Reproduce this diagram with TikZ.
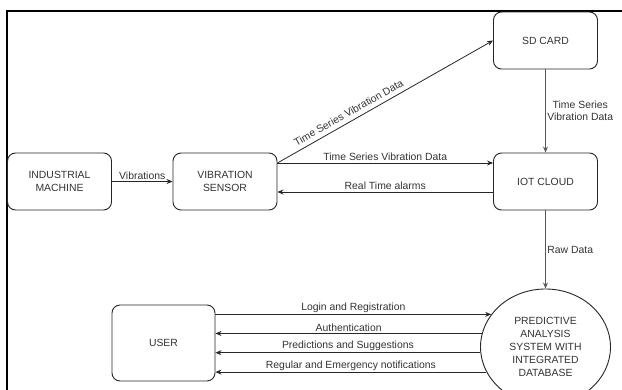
\documentclass[tikz,border=0pt]{standalone}
\usepackage{fontspec}
\setmainfont{Liberation Sans}
\usetikzlibrary{arrows.meta,shapes.geometric}
\begin{document}
\begin{tikzpicture}[x=1pt,y=-1pt,
  box/.style={draw=black!85, line width=0.9pt, rounded corners=8pt,
    minimum width=104pt, minimum height=57pt, inner sep=0pt, align=center,
    text=black!80, font=\fontsize{10.4}{13}\selectfont},
  flow/.style={draw=black!85, line width=0.8pt, -{Stealth[length=6pt,width=5pt]}},
  lbl/.style={text=black!80, font=\fontsize{10.4}{12.5}\selectfont, inner sep=1.5pt}
]
\useasboundingbox (0,0) rectangle (622,390);
\clip (0,0) rectangle (622,390);
\fill[white] (0,0) rectangle (622,390);

% outer frame (top and left edges)
\draw[line width=2pt] (6.7,390) -- (6.7,11) -- (622,11);

% blocks
\node[box] (ind) at (59.5,181.5) {INDUSTRIAL\\MACHINE};
\node[box] (sen) at (225,181.5) {VIBRATION\\SENSOR};
\node[box] (sd)  at (545.5,40.5) {SD CARD};
\node[box] (iot) at (545.5,181.5) {IOT CLOUD};
\node[box, minimum width=103pt, minimum height=76pt] (user) at (163.5,343) {USER};
\node[ellipse, draw=black!85, line width=0.9pt, minimum width=130pt, minimum height=116pt,
  inner sep=0pt, align=center, text=black!80, font=\fontsize{10.4}{12.8}\selectfont]
  (pas) at (545.5,347) {PREDICTIVE\\ANALYSIS\\SYSTEM WITH\\INTEGRATED\\DATABASE};

% data flows
\draw[flow] (ind) -- node[lbl, above] {Vibrations} (sen);
\draw[flow] ([yshift=18.5pt]sen.east) -- node[lbl, above=3pt, sloped, pos=0.35] {Time Series Vibration Data} (sd.west);
\draw[flow] ([yshift=18.5pt]sen.east) -- node[lbl, above] {Time Series Vibration Data} ([yshift=18.5pt]iot.west);
\draw[flow] ([yshift=-10.5pt]iot.west) -- node[lbl, above] {Real Time alarms} ([yshift=-10.5pt]sen.east);
\draw[flow, draw=black!65] (sd) -- node[lbl, right, align=center] {Time Series\\Vibration Data} (iot);
\draw[flow, draw=black!65] (iot) -- node[lbl, right] {Raw Data} (pas);

% user interaction
\draw[flow] (pas.149 -| user.east) -- node[lbl, above] {Login and Registration} (pas.149);
\draw[flow] (pas.168) -- node[lbl, above] {Authentication} (pas.168 -| user.east);
\draw[flow] (pas.185) -- node[lbl, above] {Predictions and Suggestions} (pas.185 -| user.east);
\draw[flow] (pas.203) -- node[lbl, above] {Regular and Emergency notifications} (pas.203 -| user.east);
\end{tikzpicture}
\end{document}
